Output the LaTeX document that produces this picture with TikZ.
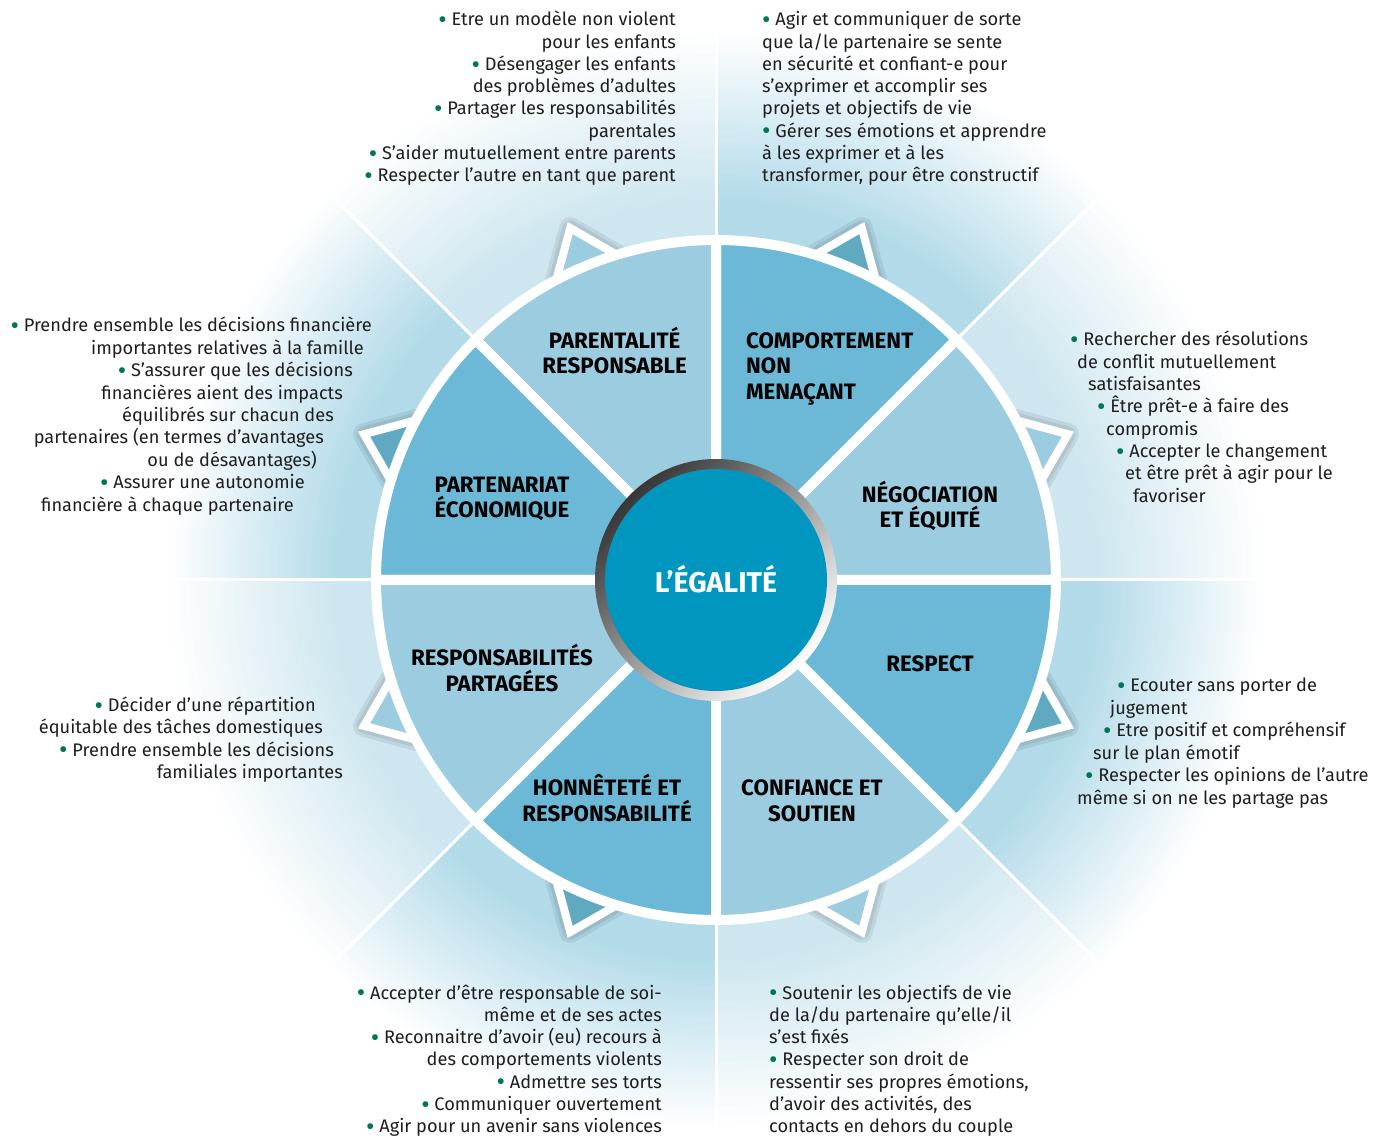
\documentclass[tikz,border=0pt]{standalone}
\usepackage{fontspec}
\setmainfont{Fira Sans}
\definecolor{secclair}{RGB}{156,204,224}
\definecolor{secfonce}{RGB}{107,185,214}
\definecolor{trifonce}{RGB}{95,169,193}
\definecolor{centre}{RGB}{0,150,191}
\definecolor{anneau}{RGB}{55,55,55}
\definecolor{vertpuce}{RGB}{0,118,86}
\definecolor{texte}{RGB}{30,30,30}
\definecolor{halofonce}{RGB}{178,218,233}
\definecolor{haloclair}{RGB}{206,230,239}
\newcommand{\puce}{{\color{vertpuce}\fontsize{26}{20}\selectfont\raisebox{-0.1em}{•}}\ }

\begin{document}
\begin{tikzpicture}[x=1pt,y=1pt,
    corps/.style={font=\fontsize{18.2}{20}\selectfont, text=texte, inner sep=0pt},
    titre/.style={font=\fontsize{22.3}{25}\selectfont\bfseries, text=black, inner sep=0pt},
    dent/.style={draw=white, line width=8pt, line join=miter}]
  \useasboundingbox (-716,-562) rectangle (667,580);

  \foreach \a/\c in {0/haloclair,45/halofonce,90/haloclair,135/halofonce,180/haloclair,225/halofonce,270/haloclair,315/halofonce}{
    \begin{scope}
      \clip (0,0) -- (\a:800) arc[start angle=\a, delta angle=45, radius=800] -- cycle;
      \foreach \r in {546,542,...,382}{
        \pgfmathtruncatemacro\p{(550-\r)/1.7}
        \fill[\c!\p!white] (0,0) circle (\r);}
      \fill[\c] (0,0) circle (380);
    \end{scope}}
  \foreach \a in {0,45,...,315}
    \draw[white, line width=3pt] (\a:345) -- (\a:600);

  \foreach \a/\f in {22.5/secclair,67.5/trifonce,112.5/secclair,157.5/trifonce,202.5/secclair,247.5/trifonce,292.5/secclair,337.5/trifonce}{
    \foreach \w in {22,15}
      \draw[black, opacity=0.07, line width=\w pt, line join=round] ({\a-7.5}:328) -- (\a:381) -- ({\a+7.5}:328) -- cycle;
    \filldraw[fill=\f, dent] ({\a-7.5}:328) -- (\a:381) -- ({\a+7.5}:328) -- cycle;}

  \foreach \a/\f in {0/secclair,45/secfonce,90/secclair,135/secfonce,180/secclair,225/secfonce,270/secclair,315/secfonce}
    \filldraw[fill=\f, draw=white, line width=10pt, line join=round] (0,0) -- (\a:340) arc[start angle=\a, delta angle=45, radius=340] -- cycle;

  \shade[top color=anneau, bottom color=white, shading angle=45] (0,0) circle (121);
  \fill[centre] (0,0) circle (111);
  \node[titre, text=white, font=\fontsize{28.6}{30}\selectfont\bfseries, anchor=base] (egalite) at (0,-12.7) {L’ÉGALITÉ};

  \foreach \t [count=\i] in {PARENTALITÉ, RESPONSABLE}
    \node[titre, anchor=base] (parentalite\i) at (-101.4,{231.7-25.5*(\i-1)}) {\t};
  \foreach \t [count=\i] in {COMPORTEMENT, NON, MENAÇANT}
    \node[titre, anchor=base west] (comportement\i) at (30,{231.7-25.5*(\i-1)}) {\t};
  \foreach \t [count=\i] in {NÉGOCIATION, ET ÉQUITÉ}
    \node[titre, anchor=base] (negociation\i) at (214,{77.5-25.5*(\i-1)}) {\t};
  \node[titre, anchor=base] (respect) at (214,-91.5) {RESPECT};
  \foreach \t [count=\i] in {CONFIANCE ET, SOUTIEN}
    \node[titre, anchor=base] (confiance\i) at (96,{-215.5-25.5*(\i-1)}) {\t};
  \foreach \t [count=\i] in {HONNÊTETÉ ET, RESPONSABILITÉ}
    \node[titre, anchor=base] (honnetete\i) at (-109,{-215.5-25.5*(\i-1)}) {\t};
  \foreach \t [count=\i] in {RESPONSABILITÉS, PARTAGÉES}
    \node[titre, anchor=base] (partage\i) at (-214,{-85.5-25.5*(\i-1)}) {\t};
  \foreach \t [count=\i] in {PARTENARIAT, ÉCONOMIQUE}
    \node[titre, anchor=base] (partenariat\i) at (-214,{87.5-25.5*(\i-1)}) {\t};

  \foreach \t [count=\i] in {{\puce Etre un modèle non violent}, pour les enfants, {\puce Désengager les enfants}, des problèmes d’adultes, {\puce Partager les responsabilités}, parentales, {\puce S’aider mutuellement entre parents}, {\puce Respecter l’autre en tant que parent}}
    \node[corps, anchor=base east] (parentalite-t\i) at (-40,{554-22.24*(\i-1)}) {\t};
  \foreach \t [count=\i] in {{\puce Agir et communiquer de sorte}, que la/le partenaire se sente, en sécurité et confiant-e pour, s’exprimer et accomplir ses, projets et objectifs de vie, {\puce Gérer ses émotions et apprendre}, à les exprimer et à les, {transformer, pour être constructif}}
    \node[corps, anchor=base west] (comportement-t\i) at (46,{554-22.24*(\i-1)}) {\t};
  \foreach \x/\t [count=\i] in {354/{\puce Rechercher des résolutions}, 361/de conflit mutuellement, 372/satisfaisantes, 381/{\puce Être prêt-e à faire des}, 390/compromis, 400/{\puce Accepter le changement}, 409/et être prêt à agir pour le, 417/favoriser}
    \node[corps, anchor=base west] (negociation-t\i) at (\x,{234-22.3*(\i-1)}) {\t};
  \foreach \x/\t [count=\i] in {401/{\puce Ecouter sans porter de}, 394/jugement, 387/{\puce Etre positif et compréhensif}, 377/sur le plan émotif, 369/{\puce Respecter les opinions de l’autre}, 361/même si on ne les partage pas}
    \node[corps, anchor=base west] (respect-t\i) at (\x,{-112-22.4*(\i-1)}) {\t};
  \foreach \t [count=\i] in {{\puce Soutenir les objectifs de vie}, de la/du partenaire qu’elle/il, s’est fixés, {\puce Respecter son droit de}, {ressentir ses propres émotions,}, {d’avoir des activités, des}, contacts en dehors du couple}
    \node[corps, anchor=base west] (confiance-t\i) at (53,{-419-22.3*(\i-1)}) {\t};
  \foreach \t [count=\i] in {{\puce Accepter d’être responsable de soi-}, même et de ses actes, {\puce Reconnaitre d’avoir (eu) recours à}, des comportements violents, {\puce Admettre ses torts}, {\puce Communiquer ouvertement}, {\puce Agir pour un avenir sans violences}}
    \node[corps, anchor=base east] (honnetete-t\i) at (-54,{-419-22.3*(\i-1)}) {\t};
  \foreach \x/\t [count=\i] in {-400/{\puce Décider d’une répartition}, -393/équitable des tâches domestiques, -382/{\puce Prendre ensemble les décisions}, -373/familiales importantes}
    \node[corps, anchor=base east] (partage-t\i) at (\x,{-131.7-22.2*(\i-1)}) {\t};
  \foreach \x/\t [count=\i] in {-344/{\puce Prendre ensemble les décisions financière}, -352/importantes relatives à la famille, -363/{\puce S’assurer que les décisions}, -373/financières aient des impacts, -382/équilibrés sur chacun des, -392/partenaires (en termes d’avantages, -399/ou de désavantages), -411/{\puce Assurer une autonomie}, -422/financière à chaque partenaire}
    \node[corps, anchor=base east] (partenariat-t\i) at (\x,{248-22.4*(\i-1)}) {\t};
\end{tikzpicture}
\end{document}
